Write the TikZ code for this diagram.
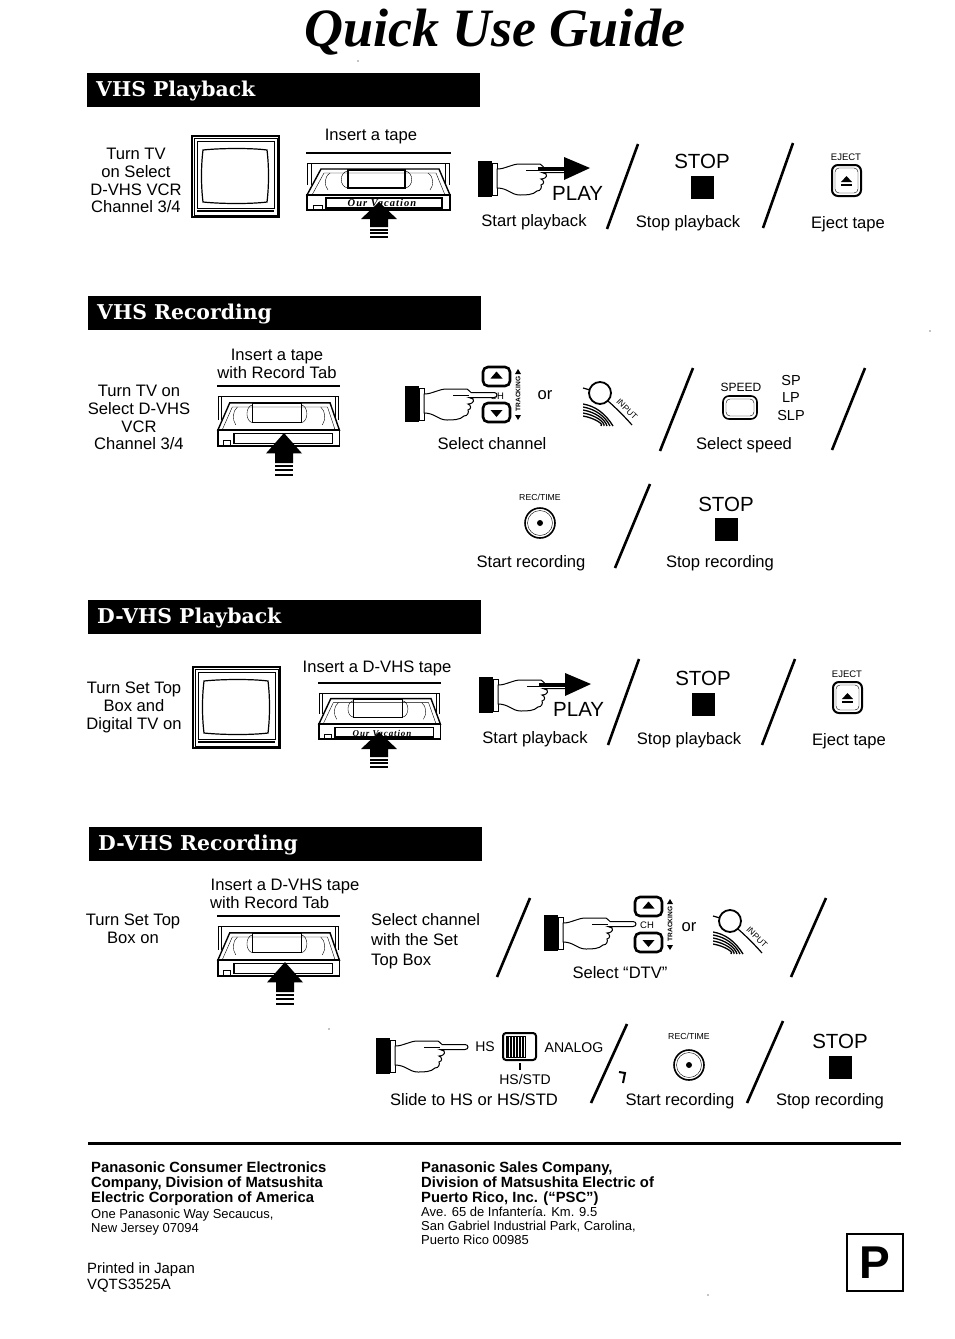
\documentclass[tikz,border=0pt]{standalone}
\usepackage{fontspec}
\setmainfont{Liberation Sans}
\newfontfamily\titlefont{Liberation Serif}
\newfontfamily\tapefont[LetterSpace=10]{Liberation Serif}
\newfontfamily\barfont{DejaVu Serif}
\tikzset{
  tvset/.pic={
    \draw[line width=1.4] (0,0) rectangle (87,81);
    \draw (2,2) rectangle (85,79);
    \draw (5,5) rectangle (82,72);
    \draw[line width=1.2] (5,75) -- (82,75);
    \draw[line width=1.2] (11,14) .. controls (30,12) and (60,12) .. (75,14)
      .. controls (77,30) and (77,50) .. (75,66)
      .. controls (60,68) and (30,68) .. (11,66)
      .. controls (9,50) and (9,30) .. (11,14) -- cycle;
  },
  tapeset/.pic={
    \draw[line width=1.2] (0,0) -- (145,0);
    \draw (1,10) -- (143,10) (1,10) -- (1,32) (5,10) -- (5,32) (143,10) -- (143,32) (139,10) -- (139,32);
    \draw[line width=1.4,fill=white] (1,42) -- (15,16) -- (133,16) -- (144,42) -- cycle;
    \draw (6,42) -- (18,20) -- (130,20) -- (139,42);
    \draw[line width=1.2] (42,17) rectangle (99,35);
    \draw (42,18) .. controls (33,19) and (33,34) .. (42,35);
    \draw (99,18) .. controls (108,19) and (108,34) .. (99,35);
    \draw (24,20) .. controls (18,24) and (18,32) .. (22,37);
    \draw (122,20) .. controls (128,24) and (128,32) .. (124,37);
    \draw[line width=1.4] (1,42) rectangle (144,57);
    \draw[line width=1.2] (20,45) rectangle (136,55);
    \draw (7,52) rectangle (16,57);
  },
  uparrow/.pic={
    \fill (0,0) -- (18,17) -- (9,17) -- (9,25) -- (-9,25) -- (-9,17) -- (-18,17) -- cycle;
    \foreach \sy in {28,31,35}
      \fill (-9,\sy-1) rectangle (9,\sy+.5);
  },
  handset/.pic={
    \fill (0,0) rectangle (14,36);
    \draw (14,2) rectangle (19,34);
    \draw[line width=1,fill=white] (19,8) .. controls (28,8) and (33,3) .. (42,3) -- (62,3)
      .. controls (64,3) and (64,6) .. (66,6.5) -- (89,6.5)
      .. controls (93,6.5) and (93,11.5) .. (89,11.5) -- (64,11.5)
      -- (68,13) .. controls (70,16) and (66,18) .. (63,18)
      .. controls (66,19) and (67,23) .. (63,24)
      .. controls (64,26) and (63,30) .. (59,30)
      .. controls (55,34) and (48,34) .. (42,34)
      .. controls (33,34) and (30,27) .. (19,27) -- cycle;
    \draw (48,9.5) -- (64,9.5);
  },
  handplay/.pic={
    \pic {handset};
    \fill (86,-4) -- (112,7) -- (86,19) -- cycle;
    \fill (60,5.5) rectangle (88,9.5);
  },
  ejectkey/.pic={
    \draw[line width=2,rounded corners=6] (0,0) rectangle (29,31);
    \draw[rounded corners=4] (3,3) rectangle (26,28);
    \fill (14.5,11) -- (20,17) -- (9,17) -- cycle;
    \fill (9,19) rectangle (20,21);
  },
  reckey/.pic={
    \draw[line width=1.6] (0,0) circle (15);
    \draw (0,0) circle (12.5);
    \fill (0,0) circle (3);
  },
  chkeys/.pic={
    \foreach \ky in {0,36} {
      \draw[line width=2.6,rounded corners=5] (0,\ky) rectangle (27,\ky+19);
    }
    \fill (13.5,4.5) -- (19.5,11.5) -- (7.5,11.5) -- cycle;
    \fill (13.5,50) -- (19.5,43) -- (7.5,43) -- cycle;
    \node[rotate=90,font=\fontsize{6.6}{6.6}\selectfont\bfseries,inner sep=0] (-trk) at (35,27) {TRACKING};
    \fill (35,2) -- (38,7) -- (32,7) -- cycle;
    \fill (35,53) -- (38,48) -- (32,48) -- cycle;
  },
  knobset/.pic={
    \draw[line width=1.8] (0,0) circle (11);
    \draw[line width=1.2] (-17,-5) -- (-10,-3);
    \draw[line width=1.2] (8,8) .. controls (16,15) and (25,24) .. (32,32);
    \node[rotate=-45,font=\fontsize{8.5}{8.5}\selectfont,inner sep=0] (-inp) at (27,16) {INPUT};
    \begin{scope}
      \clip (-17,10) rectangle (14,33);
      \foreach \ka in {0,3,6,9,12}
        \draw[line width=1.3] (-17,11+\ka) .. controls (-5,13+\ka) and (5,20+\ka) .. (13-\ka,33);
    \end{scope}
  },
  slidekey/.pic={
    \draw[line width=2,rounded corners=3] (0,0) rectangle (33,27);
    \draw (3,3) rectangle (22,24);
    \foreach \kx in {5,8,11,14,17,20}
      \draw[line width=1.1] (\kx,3) -- (\kx,24);
    \draw[line width=2] (17,30) -- (17,37);
  }
}
\begin{document}
\begin{tikzpicture}[x=1pt,y=-1pt]
  \tikzstyle{lab}=[font=\fontsize{16.6}{17.7}\selectfont,align=center,inner sep=0,anchor=north,yshift=-1pt]
  \tikzstyle{leftlab}=[lab,align=left,anchor=north west]
  \tikzstyle{stoplab}=[lab,font=\fontsize{20.5}{21}\selectfont]
  \tikzstyle{keylab}=[lab,font=\fontsize{9.5}{9.5}\selectfont]
  \tikzstyle{sublab}=[leftlab,font=\fontsize{14.8}{14.8}\selectfont\bfseries]
  \tikzstyle{finelab}=[leftlab,font=\fontsize{13}{14}\selectfont]
  \tikzstyle{stopbox}=[fill=black,inner sep=0,minimum size=23]
  \tikzstyle{slash}=[line width=2.6]
  \tikzstyle{bartext}=[font=\barfont\bfseries\fontsize{20.4}{20.4}\selectfont,text=white,inner sep=0,anchor=west]
  \tikzstyle{tapelab}=[font=\tapefont\bfseries\itshape\fontsize{10.5}{10.5}\selectfont,inner sep=0]
  \useasboundingbox (0,0) rectangle (954,1339);
  \fill[white] (0,0) rectangle (954,1339);
  \node[font=\titlefont\bfseries\itshape\fontsize{54}{54}\selectfont,inner sep=0] (guide) at (494.5,32) {Quick Use Guide};
  \foreach \bx/\by/\bt in {87/73/VHS Playback,88/296/VHS Recording,88/600/D-VHS Playback,89/827/D-VHS Recording} {
    \fill (\bx,\by) rectangle ++(393,34);
    \node[bartext] at (\bx+9,\by+18.5) {\bt};
  }
  \foreach \xa/\ya/\xb/\yb in {607/229/638/144,763/228/793/143,660/451/693/368,832/450/865/368,
      615/568/650/484,608/745/639/659,762/745/795/659,497/977/530/898,791/977/826/898,591/1103/627/1024,747/1103/783/1021}
    \draw[slash] (\xa,\ya) -- (\xb,\yb);

  \node[lab] (tvonA) at (136,147) {Turn TV\\on Select\\D-VHS VCR\\Channel 3/4};
  \pic at (192,136) {tvset};
  \node[lab] (insertA) at (371,128) {Insert a tape};
  \pic at (306,153) {tapeset};
  \node[tapelab] (ourA) at (382,203) {Our Vacation};
  \pic at (379,202) {uparrow};
  \pic at (478,161) {handplay};
  \node[stoplab,anchor=north west] (playA) at (552,185) {PLAY};
  \node[lab] (startA) at (534,213) {Start playback};
  \node[stoplab] (stopA) at (702,153) {STOP};
  \node[stopbox] (boxA) at (702.5,187.5) {};
  \node[lab] (haltA) at (688,214) {Stop playback};
  \node[keylab] (ejectA) at (846,153) {EJECT};
  \pic at (832,165) {ejectkey};
  \node[lab] (outA) at (848,215) {Eject tape};

  \node[lab] (tvonB) at (139,384) {Turn TV on\\Select D-VHS\\VCR\\Channel 3/4};
  \node[lab] (insertB) at (277,348) {Insert a tape\\with Record Tab};
  \pic[xscale=.85,yscale=1.05] at (217,386) {tapeset};
  \pic[yscale=1.2] at (284,433) {uparrow};
  \node[keylab] (chB) at (497,392) {CH};
  \pic at (405,386) {handset};
  \pic at (483,367) {chkeys};
  \node[lab,anchor=center] (orB) at (545,394) {or};
  \pic at (600,393) {knobset};
  \node[lab] (selB) at (492,436) {Select channel};
  \node[keylab,font=\fontsize{12}{12}\selectfont] (speedB) at (741,382) {SPEED};
  \draw[line width=1.6,rounded corners=6] (723,396) rectangle (757,419);
  \draw[rounded corners=4] (726,399) rectangle (754,416);
  \node[lab,font=\fontsize{14.5}{17.5}\selectfont] (modeB) at (791,374) {SP\\LP\\SLP};
  \node[lab] (speedtxtB) at (744,436) {Select speed};
  \node[keylab,font=\fontsize{8.7}{9}\selectfont] (timeB) at (540,493) {REC/TIME};
  \pic at (540,523) {reckey};
  \node[lab] (recB) at (531,554) {Start recording};
  \node[stoplab] (stopB) at (726,496) {STOP};
  \node[stopbox] (boxB) at (726.5,529) {};
  \node[lab] (haltB) at (720,554) {Stop recording};

  \node[lab] (tvonC) at (134,681) {Turn Set Top\\Box and\\Digital TV on};
  \pic at (193,667) {tvset};
  \node[lab] (insertC) at (377,660) {Insert a D-VHS tape};
  \pic[xscale=.85,yscale=.98] at (318,683) {tapeset};
  \node[tapelab,font=\tapefont\bfseries\itshape\fontsize{9}{9}\selectfont] (ourC) at (382,733) {Our Vacation};
  \pic at (379,732) {uparrow};
  \pic at (479,677) {handplay};
  \node[stoplab,anchor=north west] (playC) at (553,701) {PLAY};
  \node[lab] (startC) at (535,730) {Start playback};
  \node[stoplab] (stopC) at (703,670) {STOP};
  \node[stopbox] (boxC) at (703.5,704) {};
  \node[lab] (haltC) at (689,731) {Stop playback};
  \node[keylab] (ejectC) at (847,670) {EJECT};
  \pic at (833,682) {ejectkey};
  \node[lab] (outC) at (849,732) {Eject tape};

  \node[lab] (tvonD) at (133,913) {Turn Set Top\\Box on};
  \node[lab] (insertD) at (285,878) {Insert a D-VHS tape};
  \node[leftlab] (tabD) at (210,895) {with Record Tab};
  \pic[xscale=.85,yscale=1.05] at (217,916) {tapeset};
  \pic[yscale=1.2] at (285,962) {uparrow};
  \node[leftlab,font=\fontsize{16.6}{20}\selectfont] (selD) at (371,912) {Select channel\\with the Set\\Top Box};
  \pic at (544,915) {handset};
  \node[keylab] (chD) at (647,921) {CH};
  \pic at (635,897) {chkeys};
  \node[lab,anchor=center] (orD) at (689,926) {or};
  \pic at (730,921) {knobset};
  \node[lab] (selE) at (620,965) {Select ``DTV''};

  \pic at (376,1038) {handset};
  \node[keylab,font=\fontsize{14}{14}\selectfont] (hsD) at (485,1041) {HS};
  \pic at (503,1033) {slidekey};
  \node[keylab,font=\fontsize{14.1}{14.3}\selectfont] (analogD) at (574,1041) {ANALOG};
  \node[keylab,font=\fontsize{14}{14}\selectfont] (stdD) at (525,1073) {HS/STD};
  \node[lab] (slideD) at (474,1092) {Slide to HS or HS/STD};
  \draw[line width=2] (619,1072) -- (625,1073) -- (623,1083);
  \node[keylab,font=\fontsize{8.7}{9}\selectfont] (timeD) at (689,1032) {REC/TIME};
  \pic at (689,1065) {reckey};
  \node[lab] (recD) at (680,1092) {Start recording};
  \node[stoplab] (stopD) at (840,1033) {STOP};
  \node[stopbox] (boxD) at (840.5,1067.5) {};
  \node[lab] (haltD) at (830,1092) {Stop recording};

  \draw[line width=3] (88,1143) -- (901,1143);
  \node[sublab] (panaA) at (91,1161) {Panasonic Consumer Electronics\\Company, Division of Matsushita\\Electric Corporation of America};
  \node[finelab] (addrA) at (91,1207.5) {One Panasonic Way Secaucus,\\New Jersey 07094};
  \node[sublab] (panaB) at (421,1161) {Panasonic Sales Company,\\Division of Matsushita Electric of\\Puerto Rico, Inc. (``PSC'')};
  \node[finelab] (addrB) at (421,1206) {Ave. 65 de Infantería. Km. 9.5\\San Gabriel Industrial Park, Carolina,\\Puerto Rico 00985};
  \node[leftlab,font=\fontsize{14.9}{16}\selectfont] (printed) at (87,1261) {Printed in Japan\\VQTS3525A};
  \node[draw,line width=2,minimum width=56,minimum height=57,inner sep=0,font=\bfseries\fontsize{46}{46}\selectfont] (pbox) at (875,1262.5) {P};
  \foreach \sx/\sy in {358/61,930/331,329/1029,708/1295}
    \fill (\sx,\sy) circle (.6);
\end{tikzpicture}
\end{document}
